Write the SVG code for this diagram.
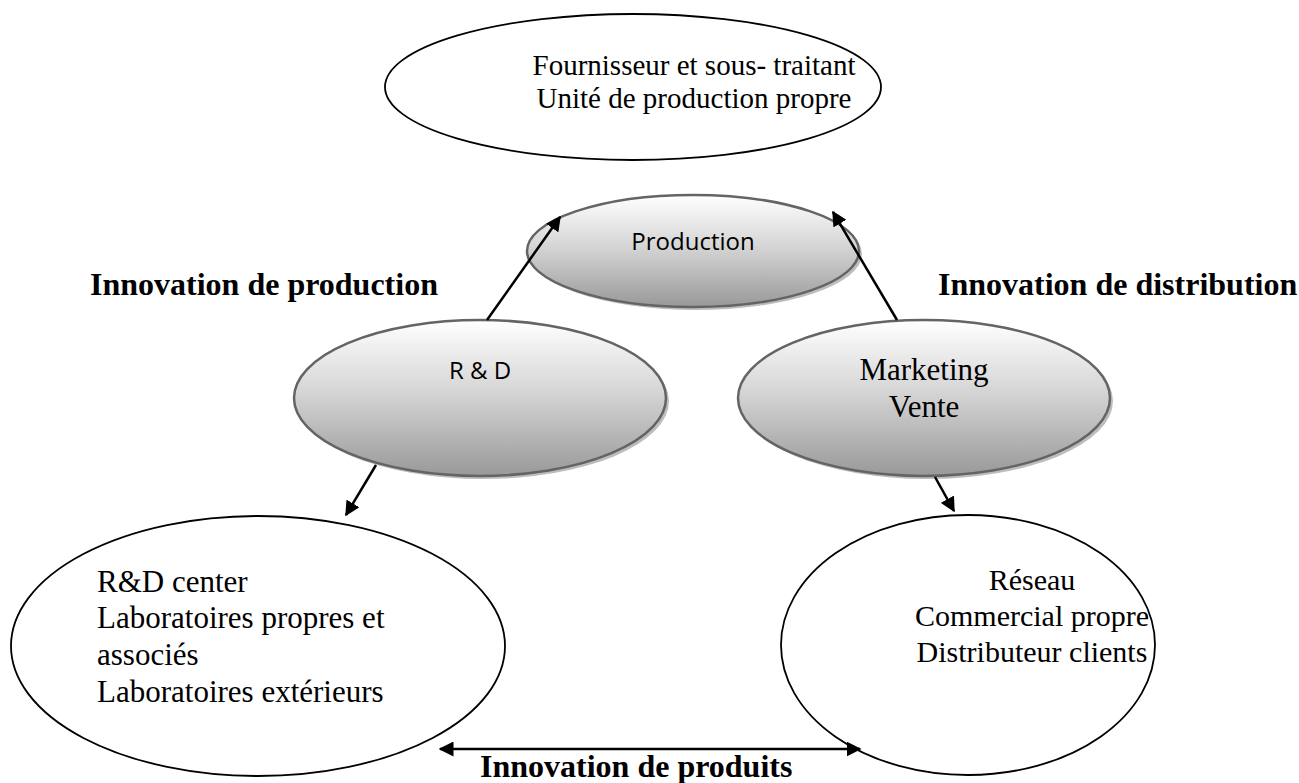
<svg xmlns="http://www.w3.org/2000/svg" width="1299" height="783" viewBox="0 0 1299 783">
  <defs>
    <linearGradient id="g" x1="0" y1="0" x2="0" y2="1">
      <stop offset="0" stop-color="#ffffff"/>
      <stop offset="0.45" stop-color="#d6d6d6"/>
      <stop offset="1" stop-color="#999999"/>
    </linearGradient>
    <marker id="ah" viewBox="0 0 10 10" refX="9" refY="5" markerWidth="6" markerHeight="6" markerUnits="strokeWidth" orient="auto-start-reverse">
      <path d="M0,0 L10,5 L0,10 z" fill="#000"/>
    </marker>
  </defs>
  <style>
    .plain { fill: #fff; stroke: #000; stroke-width: 1.8; }
    .shadow { fill: #bdbdbd; stroke: none; }
    .grad { fill: url(#g); stroke: #646464; stroke-width: 2.5; }
    .serif { font-family: "Liberation Serif", "Times New Roman", serif; fill: #000; }
    .sans { font-family: "Open Sans", "Noto Sans", sans-serif; fill: #000; }
    .bold { font-family: "Liberation Serif", "Times New Roman", serif; font-weight: bold; font-size: 32px; fill: #000; }
    .conn { stroke: #000; stroke-width: 2.5; fill: none; marker-end: url(#ah); }
  </style>
  <rect width="1299" height="783" fill="#fff"/>

  <g id="node-fournisseur">
    <ellipse class="plain" cx="633" cy="87" rx="248" ry="73"/>
    <text class="serif" font-size="29" text-anchor="middle" x="694" y="75">Fournisseur et sous- traitant</text>
    <text class="serif" font-size="29" text-anchor="middle" x="694" y="108">Unité de production propre</text>
  </g>

  <g id="node-production">
    <ellipse class="shadow" cx="696" cy="254" rx="166" ry="56"/>
    <ellipse class="grad" cx="693" cy="251" rx="166" ry="56"/>
    <text class="sans" font-size="24" text-anchor="middle" x="693" y="250">Production</text>
  </g>

  <g id="node-rd">
    <ellipse class="shadow" cx="483" cy="401" rx="186" ry="78"/>
    <ellipse class="grad" cx="480" cy="398" rx="186" ry="78"/>
    <text class="sans" font-size="24" text-anchor="middle" x="480" y="379">R &amp; D</text>
  </g>

  <g id="node-marketing">
    <ellipse class="shadow" cx="927" cy="401" rx="186" ry="78"/>
    <ellipse class="grad" cx="924" cy="398" rx="186" ry="78"/>
    <text class="serif" font-size="31" text-anchor="middle" x="924" y="380">Marketing</text>
    <text class="serif" font-size="31" text-anchor="middle" x="924" y="417">Vente</text>
  </g>

  <g id="node-rdcenter">
    <ellipse class="plain" cx="258" cy="646" rx="247" ry="130"/>
    <text class="serif" font-size="31" x="97" y="592">R&amp;D center</text>
    <text class="serif" font-size="31" x="97" y="628">Laboratoires propres et</text>
    <text class="serif" font-size="31" x="97" y="665">associés</text>
    <text class="serif" font-size="31" x="97" y="702">Laboratoires extérieurs</text>
  </g>

  <g id="node-reseau">
    <ellipse class="plain" cx="968" cy="645" rx="187" ry="130"/>
    <text class="serif" font-size="30" text-anchor="middle" x="1032" y="590">Réseau</text>
    <text class="serif" font-size="30" text-anchor="middle" x="1032" y="626">Commercial propre</text>
    <text class="serif" font-size="30" text-anchor="middle" x="1032" y="662">Distributeur clients</text>
  </g>

  <g id="labels">
    <text class="bold" x="90" y="295">Innovation de production</text>
    <text class="bold" x="938" y="295">Innovation de distribution</text>
    <text class="bold" x="480" y="777">Innovation de produits</text>
  </g>

  <g id="connectors">
    <line class="conn" x1="487" y1="320" x2="560" y2="217"/>
    <line class="conn" x1="897" y1="320" x2="833" y2="212"/>
    <line class="conn" x1="376" y1="465" x2="346" y2="515"/>
    <line class="conn" x1="935" y1="477" x2="954" y2="511"/>
    <line class="conn" x1="440" y1="749" x2="860" y2="749" marker-start="url(#ah)"/>
  </g>
</svg>
